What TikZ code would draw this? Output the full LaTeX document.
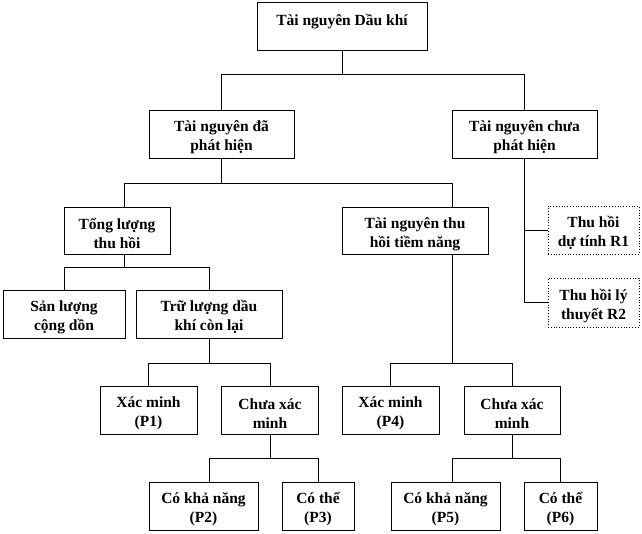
\documentclass[tikz,border=0pt]{standalone}
\usepackage{fontspec}
\setmainfont{Liberation Serif}

\begin{document}
\begin{tikzpicture}[x=1pt, y=-1pt,
    box/.style={draw=black, line width=0.8pt, align=center, inner sep=0pt,
        text height=37pt, font=\fontsize{15.5}{19}\selectfont\bfseries},
    dotbox/.style={box, dotted},
    link/.style={draw=black, line width=0.8pt}]

    \useasboundingbox (0,0) rectangle (642,534);

    % Level 1
    \node[box, minimum width=170, minimum height=48] (root) at (342,26)
        {Tài nguyên Dầu khí\\\mbox{}};

    % Level 2
    \node[box, minimum width=145, minimum height=48] (daphat) at (221.5,134)
        {Tài nguyên đã\\phát hiện};
    \node[box, minimum width=145, minimum height=48] (chuaphat) at (524.5,134)
        {Tài nguyên chưa\\phát hiện};

    % Level 3
    \node[box, minimum width=106, minimum height=47] (tong) at (117,230.5)
        {Tổng lượng\\thu hồi};
    \node[box, minimum width=146, minimum height=47] (tiemnang) at (415,230.5)
        {Tài nguyên thu\\hồi tiềm năng};
    \node[dotbox, minimum width=91, minimum height=48] (rone) at (593.5,230)
        {Thu hồi\\dự tính R1};
    \node[dotbox, minimum width=91, minimum height=49] (rtwo) at (593.5,302.5)
        {Thu hồi lý\\thuyết R2};

    % Level 4
    \node[box, minimum width=122, minimum height=48] (sanluong) at (64,314)
        {Sản lượng\\cộng dồn};
    \node[box, minimum width=146, minimum height=48] (truluong) at (209,314)
        {Trữ lượng dầu\\khí còn lại};

    % Level 5
    \node[box, minimum width=97, minimum height=48] (pone) at (148.5,410)
        {Xác minh\\(P1)};
    \node[box, minimum width=97, minimum height=48] (chuaxm) at (270,410)
        {Chưa xác\\minh};
    \node[box, minimum width=97, minimum height=48] (pfour) at (390.5,410)
        {Xác minh\\(P4)};
    \node[box, minimum width=96, minimum height=48] (chuaxmb) at (512,410)
        {Chưa xác\\minh};

    % Level 6
    \node[box, minimum width=109, minimum height=48] (ptwo) at (203.5,506)
        {Có khả năng\\(P2)};
    \node[box, minimum width=72, minimum height=48] (pthree) at (318,506)
        {Có thể\\(P3)};
    \node[box, minimum width=109, minimum height=48] (pfive) at (445.5,506)
        {Có khả năng\\(P5)};
    \node[box, minimum width=73, minimum height=48] (psix) at (560.5,506)
        {Có thể\\(P6)};

    % Off-centre attachment points
    \coordinate (tongtop) at ([xshift=7]tong.north);
    \coordinate (tongbot) at ([xshift=7]tong.south);
    \coordinate (tiemtop) at ([xshift=37]tiemnang.north);
    \coordinate (tiembot) at ([xshift=37]tiemnang.south);
    \coordinate (ptwotop) at ([xshift=6]ptwo.north);
    \coordinate (pfivetop) at ([xshift=6.5]pfive.north);

    % Connectors
    \foreach \a/\b/\h in {root.south/daphat.north/24,
                          root.south/chuaphat.north/24,
                          daphat.south/tongtop/25,
                          daphat.south/tiemtop/25,
                          tongbot/sanluong.north/13,
                          tongbot/truluong.north/13,
                          truluong.south/pone.north/25,
                          truluong.south/chuaxm.north/25,
                          tiembot/pfour.north/109,
                          tiembot/chuaxmb.north/109,
                          chuaxm.south/ptwotop/24,
                          chuaxm.south/pthree.north/24,
                          chuaxmb.south/pfivetop/24,
                          chuaxmb.south/psix.north/24} {
        \draw[link] (\a) -- ++(0,\h) -| (\b);
    }
    \draw[link] (chuaphat.south) |- (rone.west);
    \draw[link] (chuaphat.south) |- (rtwo.west);

\end{tikzpicture}
\end{document}
